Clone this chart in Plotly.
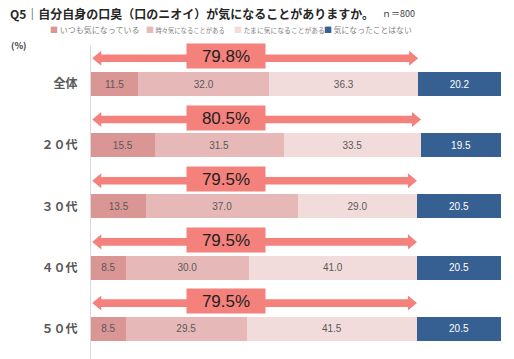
import plotly.graph_objects as go

categories = ["全体", "２０代", "３０代", "４０代", "５０代"]
series_names = ["いつも気になっている", "時々気になることがある", "たまに気になることがある", "気になったことはない"]
always = [11.5, 15.5, 13.5, 8.5, 8.5]
sometimes = [32.0, 31.5, 37.0, 30.0, 29.5]
occasionally = [36.3, 33.5, 29.0, 41.0, 41.5]
never = [20.2, 19.5, 20.5, 20.5, 20.5]
concerned_total = [79.8, 80.5, 79.5, 79.5, 79.5]

colors = ["#D99694", "#E6B9B8", "#F2DCDB", "#376092"]
text_colors = ["#595959", "#595959", "#595959", "#FFFFFF"]
arrow_color = "#F4817C"

W, H = 514, 359
L, R, T, B = 91, 13, 45, 0
pw, ph = W - L - R, H - T - B

ypos = list(range(len(categories)))
fig = go.Figure()

for name, vals, col, tcol in zip(series_names, [always, sometimes, occasionally, never], colors, text_colors):
    fig.add_trace(go.Bar(
        y=ypos, x=vals, orientation="h", name=name, width=0.39,
        marker=dict(color=col, line=dict(width=0)),
        text=[f"{v:.1f}" for v in vals], textposition="inside",
        insidetextanchor="middle", textangle=0, constraintext="none",
        textfont=dict(size=10, color=tcol, family="Liberation Sans"),
        showlegend=False, hoverinfo="skip",
    ))

# double-headed arrows spanning the "concerned" share
shaft = 0.062
head = 0.123
head_len = 2.2
arrow_off = 0.42
for i, tot in enumerate(concerned_total):
    yc = i - arrow_off
    xs = [0.3, 0.3 + head_len, 0.3 + head_len, tot - head_len, tot - head_len, tot,
          tot - head_len, tot - head_len, 0.3 + head_len, 0.3 + head_len, 0.3]
    ys = [yc, yc - head, yc - shaft, yc - shaft, yc - head, yc,
          yc + head, yc + shaft, yc + shaft, yc + head, yc]
    fig.add_trace(go.Scatter(x=xs, y=ys, mode="lines", fill="toself",
                             fillcolor=arrow_color, line=dict(width=0, color=arrow_color),
                             showlegend=False, hoverinfo="skip"))
    fig.add_annotation(x=33, y=i - 0.45, xref="x", yref="y", text=f"{tot:.1f}%",
                       showarrow=False, bgcolor=arrow_color, width=78, height=24,
                       borderpad=0, font=dict(size=17, color="#1F1F1F", family="Liberation Sans"))

def px_x(p):
    return (p - L) / pw

def px_y(p):
    return (H - B - p) / ph

fig.add_annotation(x=px_x(8), y=px_y(13), xref="paper", yref="paper", xanchor="left", yanchor="middle",
                   text="<b>Q5｜自分自身の口臭（口のニオイ）が気になることがありますか。</b>",
                   showarrow=False, font=dict(size=12, color="#262626", family="Noto Sans CJK JP"))
fig.add_annotation(x=px_x(380), y=px_y(13), xref="paper", yref="paper", xanchor="left", yanchor="middle",
                   text="ｎ＝800", showarrow=False,
                   font=dict(size=9, color="#404040", family="Noto Sans CJK JP"))
fig.add_annotation(x=px_x(9), y=px_y(45), xref="paper", yref="paper", xanchor="left", yanchor="middle",
                   text="<b>(%)</b>", showarrow=False,
                   font=dict(size=9, color="#404040", family="Noto Sans CJK JP"))

legend_x = [48, 144, 232, 322]
legend_size = [8, 6.3, 6.8, 7.8]
for lx, name, col, fs in zip(legend_x, series_names, colors, legend_size):
    fig.add_annotation(x=px_x(lx), y=px_y(30), xref="paper", yref="paper", xanchor="left", yanchor="middle",
                       text=f"<span style='color:{col};font-size:8px'>■</span> {name}", showarrow=False,
                       font=dict(size=fs, color="#7F7F7F", family="Noto Sans CJK JP"))

y_top = -(84 - T) / 61.2
y_bot = 4 + (H - B - 328.8) / 61.2

fig.update_layout(
    width=W, height=H, margin=dict(l=L, r=R, t=T, b=B, autoexpand=False),
    barmode="stack", plot_bgcolor="white", paper_bgcolor="white",
    xaxis=dict(range=[0, 100], visible=False, fixedrange=True, automargin=False),
    yaxis=dict(range=[y_bot, y_top], tickvals=ypos, ticktext=categories, automargin=False,
               showline=True, linecolor="#D9D9D9", linewidth=1, showgrid=False,
               zeroline=False, ticks="", ticklabelstandoff=10, fixedrange=True,
               tickfont=dict(size=12, color="#595959", family="Noto Sans CJK JP", weight="bold")),
    showlegend=False,
)

fig.write_html("out.html", config={"displayModeBar": False},
               post_script="document.body.style.margin='0';document.body.style.overflow='hidden';")
